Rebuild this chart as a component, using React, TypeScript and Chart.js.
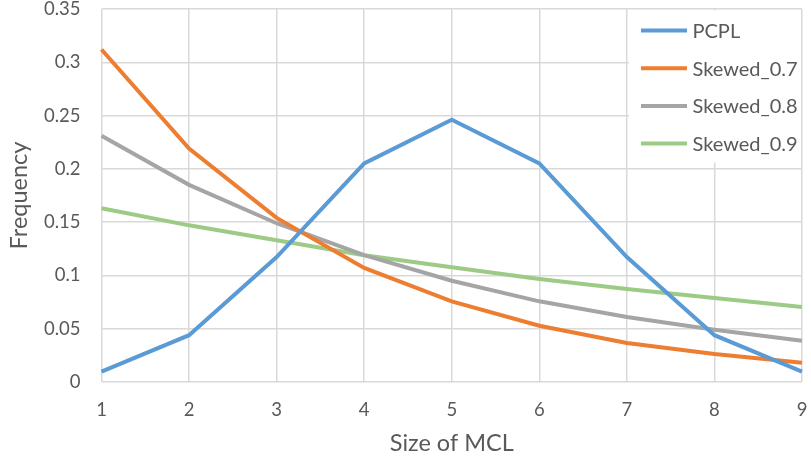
import React, { useEffect, useRef } from "react";
import { Chart, registerables } from "chart.js";

Chart.register(...registerables);

const categories = ["1", "2", "3", "4", "5", "6", "7", "8", "9"];
const seriesNames = ["PCPL", "Skewed_0.7", "Skewed_0.8", "Skewed_0.9"];
const pcpl = [0.0098, 0.0439, 0.1172, 0.2051, 0.2461, 0.2051, 0.1172, 0.0439, 0.0098];
const skewed07 = [0.312, 0.219, 0.154, 0.107, 0.0757, 0.0528, 0.0366, 0.0263, 0.018];
const skewed08 = [0.231, 0.185, 0.149, 0.119, 0.095, 0.0757, 0.061, 0.049, 0.0388];
const skewed09 = [0.163, 0.147, 0.133, 0.119, 0.1076, 0.0966, 0.0873, 0.0788, 0.0704];
const colors = ["#5B9BD5", "#ED7D31", "#A5A5A5", "#9DCB86"];
const yTickLabels = ["0", "0.05", "0.1", "0.15", "0.2", "0.25", "0.3", "0.35"];

const FONT = "Lato, 'Open Sans', sans-serif";
const TEXT = "#595959";
const GRID = "#d9d9d9";

const legendPlugin = {
  id: "insideLegend",
  afterDatasetsDraw(chart: any) {
    const ctx = chart.ctx;
    const area = chart.chartArea;
    const boxLeft = area.right - 173;
    const boxTop = area.top + 1.5;
    const boxW = 172;
    const boxH = 152;
    ctx.save();
    ctx.fillStyle = "#ffffff";
    ctx.fillRect(boxLeft, boxTop, boxW, boxH);
    ctx.font = `20px ${FONT}`;
    ctx.textBaseline = "middle";
    ctx.textAlign = "left";
    chart.data.datasets.forEach((ds: any, i: number) => {
      const y = boxTop + 20 + i * 37.7;
      ctx.strokeStyle = ds.borderColor;
      ctx.lineWidth = 4;
      ctx.beginPath();
      ctx.moveTo(boxLeft + 12, y);
      ctx.lineTo(boxLeft + 58, y);
      ctx.stroke();
      ctx.fillStyle = TEXT;
      ctx.fillText(ds.label, boxLeft + 63.5, y + 1);
    });
    ctx.restore();
  },
};

const zeroPad = (scale: any) => {
  scale.paddingLeft = 0;
  scale.paddingRight = 0;
  scale.paddingTop = 0;
  scale.paddingBottom = 0;
};

export default function App() {
  const ref = useRef<HTMLCanvasElement>(null);
  useEffect(() => {
    document.body.style.margin = "0";
    const values = [pcpl, skewed07, skewed08, skewed09];
    const chart = new Chart(ref.current as HTMLCanvasElement, {
      type: "line",
      data: {
        labels: categories,
        datasets: seriesNames.map((name, i) => ({
          label: name,
          data: values[i],
          borderColor: colors[i],
          backgroundColor: colors[i],
          borderWidth: 4,
          pointRadius: 0,
          tension: 0,
          fill: false,
        })),
      },
      options: {
        animation: false,
        responsive: false,
        maintainAspectRatio: false,
        layout: { autoPadding: false, padding: { top: 9, right: 9, left: 0, bottom: 0 } },
        plugins: { legend: { display: false }, tooltip: { enabled: false } },
        scales: {
          x: {
            type: "category",
            offset: false,
            grid: { color: GRID, lineWidth: 1.5, drawTicks: false, offset: false },
            border: { display: false },
            ticks: {
              color: TEXT,
              font: { family: FONT, size: 18.5 },
              padding: 17,
              maxRotation: 0,
            },
            title: {
              display: true,
              text: "Size of MCL",
              color: TEXT,
              font: { family: FONT, size: 23.5 },
              padding: { top: 0, bottom: 0 },
            },
            afterFit: (scale: any) => {
              scale.height = 76;
              zeroPad(scale);
            },
          },
          y: {
            min: 0,
            max: 0.35,
            grid: { color: GRID, lineWidth: 1.5, drawTicks: false },
            border: { display: false },
            ticks: {
              stepSize: 0.05,
              color: TEXT,
              font: { family: FONT, size: 18.5 },
              padding: 21,
              callback: (v: any) => yTickLabels[Math.round(Number(v) / 0.05)],
            },
            title: {
              display: true,
              text: "Frequency",
              color: TEXT,
              font: { family: FONT, size: 23.5 },
              padding: { top: 5, bottom: 0 },
            },
            afterFit: (scale: any) => {
              scale.width = 101.5;
              zeroPad(scale);
            },
          },
        },
      },
      plugins: [legendPlugin],
    });
    return () => chart.destroy();
  }, []);
  return (
    <div style={{ position: "absolute", left: 0, top: 0, width: 811, height: 458 }}>
      <canvas ref={ref} width={811} height={458} style={{ width: 811, height: 458 }} />
    </div>
  );
}
